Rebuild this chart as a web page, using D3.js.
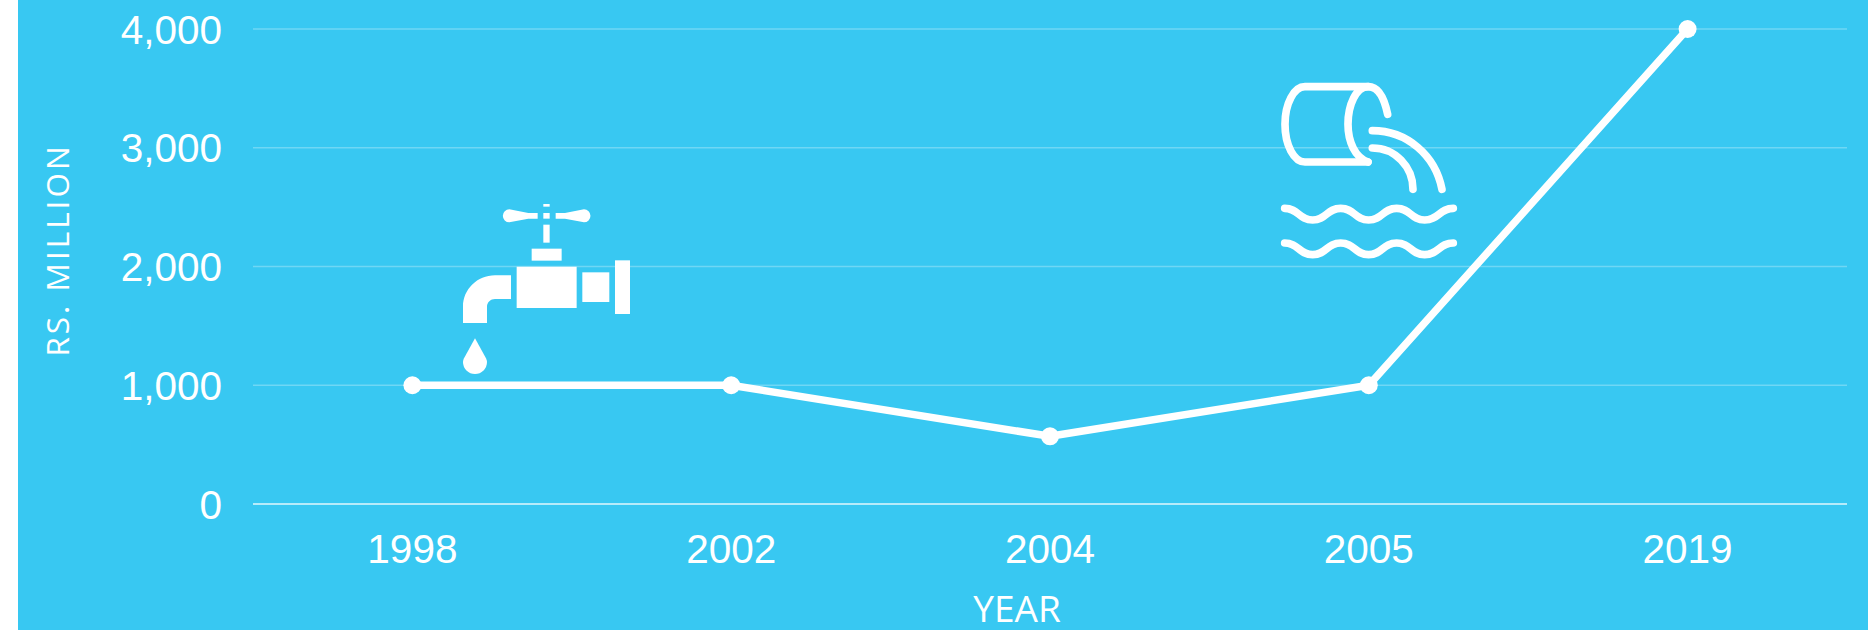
<!DOCTYPE html>
<html><head><meta charset="utf-8">
<script src="https://cdn.jsdelivr.net/npm/d3@7"></script>
<style>html,body{margin:0;padding:0;background:#fff}svg{display:block}</style></head>
<body><svg id="c" width="1868" height="630"></svg>
<script>
const years = ["1998","2002","2004","2005","2019"];
const values = [1000,1000,570,1000,4000];
const yTicks = [0,1000,2000,3000,4000];
const xTitle = "YEAR";
const yTitle = "RS. MILLION";

const svg = d3.select("#c");
const blue = "#38c8f2";
svg.append("rect").attr("x",18).attr("y",0).attr("width",1850).attr("height",630).attr("fill",blue);

const x = d3.scalePoint().domain(years).range([253,1847]).padding(0.5);
const y = d3.scaleLinear().domain([0,4000]).range([504,29]);
const font = "'Liberation Sans',Arial,sans-serif";

// grid
svg.append("g").selectAll("line").data(yTicks).join("line")
  .attr("x1",253).attr("x2",1847)
  .attr("y1",d=>y(d)).attr("y2",d=>y(d))
  .attr("stroke","#fff").attr("stroke-width",1.5)
  .attr("stroke-opacity",d=>d===0?0.85:0.28);

// y labels
svg.append("g").selectAll("text").data(yTicks).join("text")
  .attr("x",222).attr("y",d=>y(d)+14.5)
  .attr("text-anchor","end").attr("fill","#fff")
  .style("font",`40.5px ${font}`)
  .text(d3.format(","));

// x labels
svg.append("g").selectAll("text").data(years).join("text")
  .attr("x",d=>x(d)).attr("y",563)
  .attr("text-anchor","middle").attr("fill","#fff")
  .style("font",`40.5px ${font}`)
  .text(d=>d);

// titles
svg.append("text").attr("x",1017).attr("y",622).attr("text-anchor","middle")
  .attr("fill","#fff").style("font",`37px 'Open Sans',sans-serif`).text(xTitle);
svg.append("text").attr("transform","translate(69,250) rotate(-90)").attr("text-anchor","middle")
  .attr("fill","#fff").style("font",`31.5px 'Open Sans',sans-serif`).style("letter-spacing","3px").text(yTitle);

// line
const line = d3.line().x((d,i)=>x(years[i])).y(d=>y(d));
svg.append("path").datum(values).attr("d",line).attr("fill","none")
  .attr("stroke","#fff").attr("stroke-width",7.5).attr("stroke-linejoin","round");
svg.append("g").selectAll("circle").data(values).join("circle")
  .attr("cx",(d,i)=>x(years[i])).attr("cy",d=>y(d)).attr("r",9).attr("fill","#fff");

// tap icon
const tap = svg.append("g").attr("transform","translate(440,190) scale(0.3333)").attr("fill","#fff");
["M293 69L265 69L208 58A19.5 19.5 0 1 0 208 97L265 86L293 86Z",
 "M347 69L375 69L432 58A19.5 19.5 0 1 1 432 97L375 86L347 86Z",
 "M310 69h19v17h-19Z","M310 42h19v8h-19Z","M310 104h19v54h-19Z",
 "M275 176h90v36h-90Z","M230 230h180v124h-180Z","M427 247h81v89h-81Z","M525 211h45v161h-45Z",
 "M213 256L165 256C112 256 69 298 69 350L69 399L141 399L141 350C141 337 152 327 165 327L213 327Z",
 "M105 445L72 505Q69 511 69 516A36 36 0 0 0 141 516Q141 511 138 505Z"
].forEach(p=>tap.append("path").attr("d",p));

// pipe icon
const pipe = svg.append("g").attr("transform","translate(1240,60) scale(0.3333)")
  .attr("fill","none").attr("stroke","#fff").attr("stroke-width",23).attr("stroke-linecap","round").attr("stroke-linejoin","round");
const wave = y0 => `M134 ${y0}C176 ${y0} 176 ${y0+35} 218 ${y0+35}C260 ${y0+35} 260 ${y0} 302 ${y0}C344 ${y0} 344 ${y0+35} 386 ${y0+35}C428 ${y0+35} 428 ${y0} 470 ${y0}C512 ${y0} 512 ${y0+35} 554 ${y0+35}C596 ${y0+35} 598 ${y0} 640 ${y0}`;
["M443 163C432 110 412 80 385 80L195 80A60 113 0 0 0 195 306L384 306",
 "M385 80C348 80 324 135 324 193C324 245 345 292 384 306",
 "M397 212C500 212 586 285 606 388",
 "M397 264C465 264 519 320 519 388",
 wave(445), wave(549)
].forEach(p=>pipe.append("path").attr("d",p));
</script></body></html>
